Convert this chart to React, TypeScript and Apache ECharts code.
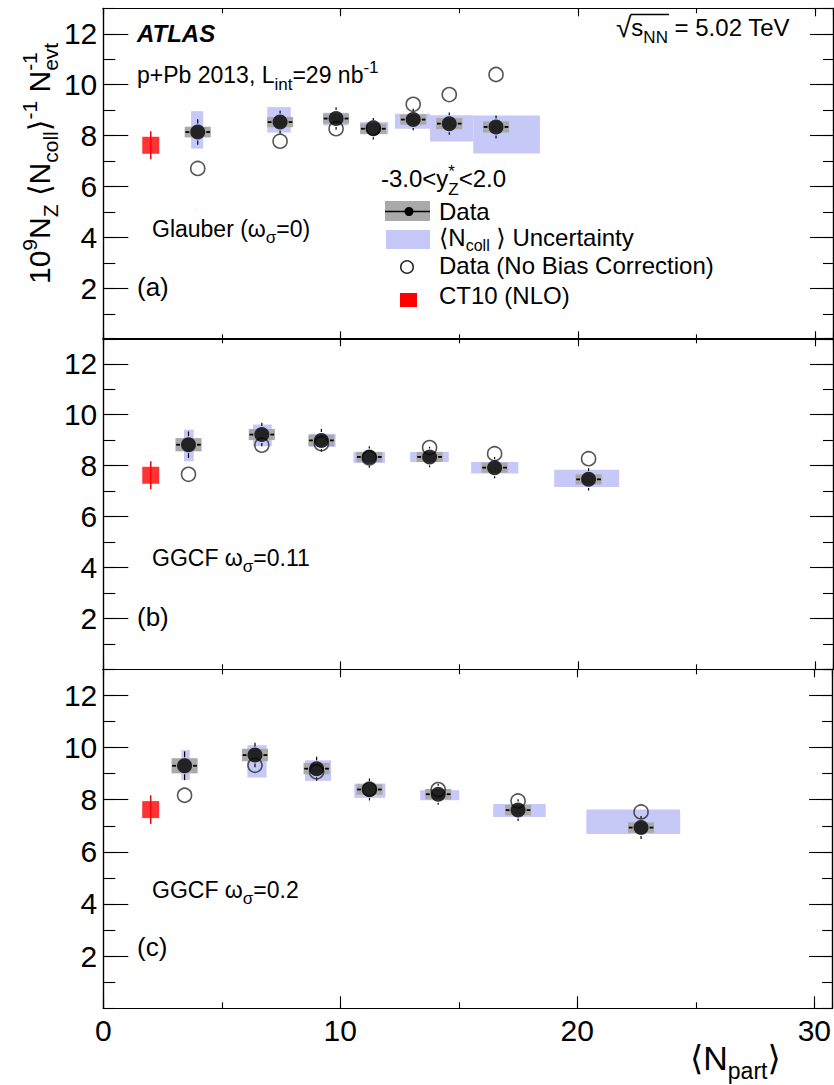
import React, { useEffect, useRef } from "react";
import * as echarts from "echarts";

// ---------------- data ----------------
const ct10Npart = [2.0];
const ct10Value = [7.62];
const ct10Err = [0.55];

// (a) Glauber (omega_sigma = 0)
const npartA = [3.98, 7.45, 9.81, 11.38, 13.06, 14.58, 16.55];
const valueA = [8.14, 8.53, 8.67, 8.27, 8.63, 8.47, 8.34];
const statA = [0.5, 0.45, 0.44, 0.42, 0.42, 0.44, 0.45];
const sysA = [0.21, 0.2, 0.2, 0.2, 0.2, 0.22, 0.22];
const noBiasA = [6.71, 7.78, 8.27, 8.3, 9.23, 9.61, 10.4];
const ncollXLoA = [3.7, 6.91, 9.27, 10.82, 12.29, 13.77, 15.59];
const ncollXHiA = [4.21, 7.9, 10.32, 12.01, 13.77, 15.59, 18.4];
const ncollYLoA = [7.49, 8.12, 8.4, 8.05, 8.27, 7.77, 7.3];
const ncollYHiA = [8.96, 9.12, 8.9, 8.53, 8.86, 8.8, 8.79];

// (b) GGCF omega_sigma = 0.11
const npartB = [3.59, 6.68, 9.19, 11.21, 13.75, 16.49, 20.45];
const valueB = [8.82, 9.22, 8.99, 8.34, 8.34, 7.92, 7.46];
const statB = [0.52, 0.46, 0.45, 0.42, 0.4, 0.42, 0.44];
const sysB = [0.26, 0.22, 0.22, 0.2, 0.2, 0.2, 0.2];
const noBiasB = [7.66, 8.8, 8.86, 8.3, 8.71, 8.47, 8.27];
const ncollXLoB = [3.4, 6.31, 8.68, 10.54, 12.93, 15.5, 19.0];
const ncollXHiB = [3.81, 7.1, 9.79, 11.87, 14.56, 17.49, 21.74];
const ncollYLoB = [8.17, 8.76, 8.73, 8.1, 8.14, 7.69, 7.16];
const ncollYHiB = [9.41, 9.61, 9.25, 8.53, 8.53, 8.14, 7.84];

// (c) GGCF omega_sigma = 0.2
const npartC = [3.43, 6.4, 9.0, 11.23, 14.13, 17.5, 22.69];
const valueC = [9.3, 9.71, 9.19, 8.39, 8.21, 7.6, 6.93];
const statC = [0.55, 0.47, 0.46, 0.42, 0.4, 0.42, 0.44];
const sysC = [0.29, 0.24, 0.22, 0.2, 0.2, 0.2, 0.2];
const noBiasC = [8.17, 9.32, 9.07, 8.4, 8.39, 7.95, 7.53];
const ncollXLoC = [3.29, 6.08, 8.51, 10.59, 13.37, 16.45, 20.38];
const ncollXHiC = [3.65, 6.89, 9.61, 11.9, 15.02, 18.67, 24.34];
const ncollYLoC = [8.75, 8.85, 8.72, 8.07, 7.98, 7.34, 6.68];
const ncollYHiC = [9.9, 10.09, 9.51, 8.62, 8.36, 7.83, 7.62];

const panelModels = ["Glauber", "GGCF", "GGCF"];
const panelOmega = ["0", "0.11", "0.2"];
const panelTags = ["(a)", "(b)", "(c)"];

const yTickValues = [2, 4, 6, 8, 10, 12];
const xTickValues = [0, 10, 20, 30];

// ---------------- layout / style ----------------
const X0 = 103.3;
const XMAX = 30.75;
const PXU = 23.73;
const GW = XMAX * PXU;
const TOPS = [8.3, 338.3, 669.3];
const HEIGHTS = [331, 331, 339];
const YMAX = 13;
const GRAY_HALF = 0.55;
const X_ERR = 0.52;
const MARKER = 15;
const OPEN_MARKER = 14;
const BLUE = "#c6c9f7";
const GRAY = "#a9a9a9";
const FAMILY = '"Liberation Sans", Arial, Helvetica, "DejaVu Sans", sans-serif';

let measureCtx: CanvasRenderingContext2D | null = null;
function fontStr(size: number, bold = false, italic = false) {
  return `${italic ? "italic " : ""}${bold ? "bold " : ""}${size}px ${FAMILY}`;
}
function measure(t: string, f: string) {
  if (!measureCtx) measureCtx = document.createElement("canvas").getContext("2d");
  measureCtx!.font = f;
  return measureCtx!.measureText(t).width;
}
type Seg = { t: string; size: number; dy?: number; bold?: boolean; italic?: boolean; stack?: boolean };
function compose(x0: number, baseline: number, segs: Seg[]) {
  let x = x0;
  let lastStart = x0;
  const els: any[] = [];
  for (const s of segs) {
    const f = fontStr(s.size, s.bold, s.italic);
    const w = measure(s.t, f);
    const xs = s.stack ? lastStart : x;
    els.push({
      type: "text",
      x: xs,
      y: baseline + (s.dy || 0) - 0.35 * s.size,
      silent: true,
      style: { text: s.t, font: f, fill: "#000", align: "left", verticalAlign: "middle" },
    });
    if (s.stack) x = Math.max(x, xs + w);
    else {
      lastStart = x;
      x = x + w;
    }
  }
  return { els, end: x };
}

function panelData(i: number) {
  const sets = [
    [npartA, valueA, statA, sysA, noBiasA, ncollXLoA, ncollXHiA, ncollYLoA, ncollYHiA],
    [npartB, valueB, statB, sysB, noBiasB, ncollXLoB, ncollXHiB, ncollYLoB, ncollYHiB],
    [npartC, valueC, statC, sysC, noBiasC, ncollXLoC, ncollXHiC, ncollYLoC, ncollYHiC],
  ][i];
  const [np, v, st, sy, nb, xl, xh, yl, yh] = sets;
  return {
    blue: np.map((_, k) => [xl[k], xh[k], yl[k], yh[k]]),
    gray: np.map((x, k) => [x, v[k], sy[k]]),
    err: np.map((x, k) => [x, v[k], st[k]]),
    open: np.map((x, k) => [x, nb[k]]),
    filled: np.map((x, k) => [x, v[k]]),
  };
}

function blueRender(_p: any, api: any) {
  const a = api.coord([api.value(0), api.value(3)]);
  const b = api.coord([api.value(1), api.value(2)]);
  return { type: "rect", shape: { x: a[0], y: a[1], width: b[0] - a[0], height: b[1] - a[1] }, style: { fill: BLUE } };
}
function grayRender(_p: any, api: any) {
  const x = api.value(0), y = api.value(1), e = api.value(2);
  const a = api.coord([x - GRAY_HALF, y + e]);
  const b = api.coord([x + GRAY_HALF, y - e]);
  return { type: "rect", shape: { x: a[0], y: a[1], width: b[0] - a[0], height: b[1] - a[1] }, style: { fill: GRAY } };
}
function errRender(_p: any, api: any) {
  const x = api.value(0), y = api.value(1), e = api.value(2);
  const c = api.coord([x, y]);
  const top = api.coord([x, y + e])[1];
  const bot = api.coord([x, y - e])[1];
  const left = api.coord([x - X_ERR, y])[0];
  const right = api.coord([x + X_ERR, y])[0];
  const gap = MARKER / 2 + 1;
  const st = { stroke: "#000", lineWidth: 1.2 };
  const sh = { stroke: "#000", lineWidth: 1.8 };
  const ch: any[] = [];
  if (c[1] - top > gap) ch.push({ type: "line", shape: { x1: c[0], y1: c[1] - gap, x2: c[0], y2: top }, style: st });
  if (bot - c[1] > gap) ch.push({ type: "line", shape: { x1: c[0], y1: c[1] + gap, x2: c[0], y2: bot }, style: st });
  if (c[0] - left > gap) ch.push({ type: "line", shape: { x1: c[0] - gap, y1: c[1], x2: left, y2: c[1] }, style: sh });
  if (right - c[0] > gap) ch.push({ type: "line", shape: { x1: c[0] + gap, y1: c[1], x2: right, y2: c[1] }, style: sh });
  return { type: "group", children: ch };
}
function ct10Render(_p: any, api: any) {
  const x = api.value(0), y = api.value(1), e = api.value(2);
  const t = api.coord([x, y + e]);
  const b = api.coord([x, y - e]);
  return { type: "line", shape: { x1: t[0], y1: t[1], x2: b[0], y2: b[1] }, style: { stroke: "#ff0000", lineWidth: 1.5 } };
}

function buildOption() {
  const grid: any[] = [];
  const xAxis: any[] = [];
  const yAxis: any[] = [];
  const series: any[] = [];
  const axLine = { show: true, onZero: false, lineStyle: { color: "#000", width: 1.2 } };
  for (let i = 0; i < 3; i++) {
    grid.push({ left: X0, top: TOPS[i], width: GW, height: HEIGHTS[i] });
    const isLast = i === 2;
    const mkX = (pos: string, interval: number, len: number, labels: boolean) => ({
      type: "value", gridIndex: i, position: pos, min: 0, max: XMAX, interval,
      axisLine: axLine,
      axisTick: { show: true, inside: true, length: len, lineStyle: { color: "#000", width: 1.1 } },
      axisLabel: {
        show: labels, fontSize: 30, color: "#000", fontFamily: FAMILY, margin: 7,
        showMaxLabel: false, showMinLabel: true,
        formatter: (v: number) => (xTickValues.includes(v) ? String(v) : ""),
      },
      splitLine: { show: false },
    });
    xAxis.push(mkX("bottom", 10, isLast ? 12 : 8, isLast));
    xAxis.push(mkX("bottom", 5, isLast ? 6 : 5, false));
    xAxis.push(mkX("top", 10, 8, false));
    xAxis.push(mkX("top", 5, 5, false));
    const mkY = (pos: string, interval: number, len: number, labels: boolean) => ({
      type: "value", gridIndex: i, position: pos, min: 0, max: YMAX, interval,
      axisLine: axLine,
      axisTick: { show: true, inside: true, length: len, lineStyle: { color: "#000", width: 1.1 } },
      axisLabel: {
        show: labels, fontSize: 30, color: "#000", fontFamily: FAMILY, margin: 6,
        showMaxLabel: false, showMinLabel: false,
        formatter: (v: number) => (yTickValues.includes(v) ? String(v) : ""),
      },
      splitLine: { show: false },
    });
    yAxis.push(mkY("left", 2, 25, true));
    yAxis.push(mkY("left", 1, 12, false));
    yAxis.push(mkY("right", 2, 23, false));
    yAxis.push(mkY("right", 1, 10, false));

    const d = panelData(i);
    const ax = { xAxisIndex: i * 4, yAxisIndex: i * 4 };
    series.push({ type: "custom", ...ax, silent: true, clip: false, renderItem: blueRender, encode: { x: [0, 1], y: [2, 3] }, data: d.blue, z: 1 });
    series.push({ type: "custom", ...ax, silent: true, clip: false, renderItem: grayRender, encode: { x: 0, y: 1 }, data: d.gray, z: 2 });
    series.push({ type: "custom", ...ax, silent: true, clip: false, renderItem: errRender, encode: { x: 0, y: 1 }, data: d.err, z: 3 });
    series.push({
      type: "scatter", ...ax, silent: true, symbol: "circle", symbolSize: OPEN_MARKER, data: d.open, z: 4,
      itemStyle: { color: "rgba(0,0,0,0)", borderColor: "#2a2a2a", borderWidth: 1.6 },
    });
    series.push({ type: "scatter", ...ax, silent: true, symbol: "circle", symbolSize: MARKER, data: d.filled, z: 5, itemStyle: { color: "#000" } });
    series.push({
      type: "custom", ...ax, silent: true, clip: false, renderItem: ct10Render, encode: { x: 0, y: 1 }, z: 6,
      data: ct10Npart.map((x, k) => [x, ct10Value[k], ct10Err[k]]),
    });
    series.push({
      type: "scatter", ...ax, silent: true, symbol: "rect", symbolSize: 17, z: 7,
      data: ct10Npart.map((x, k) => [x, ct10Value[k]]), itemStyle: { color: "#ff0000" },
    });
  }

  const graphic: any[] = [];
  graphic.push(...compose(137, 42, [{ t: "ATLAS", size: 24, bold: true, italic: true }]).els);
  graphic.push(...compose(137, 83, [
    { t: "p+Pb 2013, L", size: 23 }, { t: "int", size: 17, dy: 7 }, { t: "=29 nb", size: 23 }, { t: "-1", size: 17, dy: -10 },
  ]).els);
  // sqrt(s_NN)
  const sq = compose(616, 37, [{ t: "\u221A", size: 28 }]);
  graphic.push(...sq.els);
  const sn = compose(sq.end, 36, [{ t: "s", size: 24 }, { t: "NN", size: 17, dy: 7 }]);
  graphic.push(...sn.els);
  graphic.push({ type: "line", silent: true, shape: { x1: sq.end - 1, y1: 14.5, x2: sn.end + 1, y2: 14.5 }, style: { stroke: "#000", lineWidth: 1.3 } });
  graphic.push(...compose(sn.end, 36, [{ t: " = 5.02 TeV", size: 24 }]).els);

  // panel labels
  for (let i = 0; i < 3; i++) {
    const base = [237, 566, 898][i];
    const pre = panelModels[i] === "Glauber" ? "Glauber (\u03C9" : "GGCF \u03C9";
    const post = panelModels[i] === "Glauber" ? `=${panelOmega[i]})` : `=${panelOmega[i]}`;
    graphic.push(...compose(152, base, [{ t: pre, size: 23 }, { t: "\u03C3", size: 17, dy: 6 }, { t: post, size: 23 }]).els);
    graphic.push(...compose(137, [296, 626, 956][i], [{ t: panelTags[i], size: 26 }]).els);
  }

  // legend
  graphic.push(...compose(381, 187, [
    { t: "-3.0<y", size: 24 }, { t: "Z", size: 17, dy: 8 }, { t: "*", size: 17, dy: -10, stack: true }, { t: "<2.0", size: 24 },
  ]).els);
  graphic.push({ type: "rect", silent: true, shape: { x: 385, y: 201, width: 45, height: 20 }, style: { fill: GRAY } });
  graphic.push({ type: "line", silent: true, shape: { x1: 385, y1: 211.5, x2: 430, y2: 211.5 }, style: { stroke: "#000", lineWidth: 1.5 } });
  graphic.push({ type: "circle", silent: true, shape: { cx: 409, cy: 211.5, r: 4.5 }, style: { fill: "#000" } });
  graphic.push(...compose(439, 220, [{ t: "Data", size: 24 }]).els);
  graphic.push({ type: "rect", silent: true, shape: { x: 386, y: 230, width: 44, height: 19 }, style: { fill: BLUE } });
  graphic.push(...compose(439, 246, [
    { t: "\u27E8N", size: 24 }, { t: "coll", size: 16, dy: 5 }, { t: " \u27E9 Uncertainty", size: 24 },
  ]).els);
  graphic.push({ type: "circle", silent: true, shape: { cx: 407, cy: 267, r: 6.3 }, style: { fill: "none", stroke: "#2a2a2a", lineWidth: 1.5 } });
  graphic.push(...compose(439, 274, [{ t: "Data (No Bias Correction)", size: 24 }]).els);
  graphic.push({ type: "rect", silent: true, shape: { x: 400, y: 293, width: 17, height: 14 }, style: { fill: "#ff0000" } });
  graphic.push(...compose(439, 304, [{ t: "CT10 (NLO)", size: 24 }]).els);

  // axis titles
  const yt = compose(0, 0, [
    { t: "10", size: 30 }, { t: "9", size: 21, dy: -13 }, { t: "N", size: 30 }, { t: "Z", size: 21, dy: 8 },
    { t: " \u27E8N", size: 30 }, { t: "coll", size: 21, dy: 8 }, { t: "\u27E9", size: 30 }, { t: "-1", size: 21, dy: -13 },
    { t: " N", size: 30 }, { t: "evt", size: 21, dy: 8 }, { t: "-1", size: 21, dy: -13, stack: true },
  ]);
  graphic.push({ type: "group", x: 50, y: 284, rotation: Math.PI / 2, children: yt.els, silent: true });
  graphic.push(...compose(690, 1070, [{ t: "\u27E8N", size: 34 }, { t: "part", size: 23, dy: 9 }, { t: "\u27E9", size: 34 }]).els);

  return { animation: false, backgroundColor: "#fff", grid, xAxis, yAxis, series, graphic };
}

export default function App() {
  const ref = useRef<HTMLDivElement>(null);
  useEffect(() => {
    if (!ref.current) return;
    const chart = echarts.init(ref.current, undefined, { renderer: "svg" });
    chart.setOption(buildOption() as any);
    return () => chart.dispose();
  }, []);
  return <div ref={ref} style={{ position: "absolute", left: 0, top: 0, width: 834, height: 1085 }} />;
}
